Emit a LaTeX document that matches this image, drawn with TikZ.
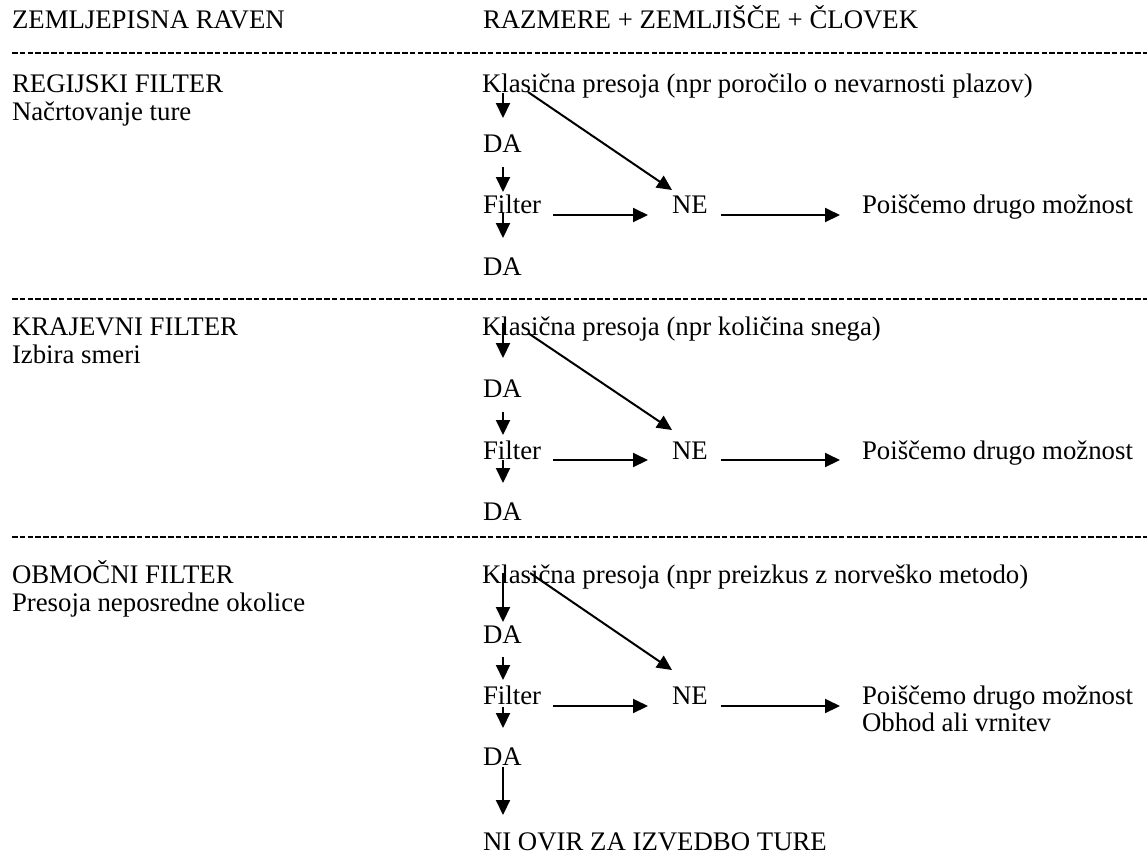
\documentclass[tikz,border=0pt]{standalone}
\usepackage{fontspec}
\setmainfont{Liberation Serif}
\usetikzlibrary{arrows.meta,calc}
\tikzset{
  txt/.style={anchor=base west,inner sep=0pt,outer sep=0pt,font=\fontsize{13.4pt}{15pt}\selectfont},
  arr/.style={line width=1pt,-{Triangle[length=7.5pt,width=7pt]}},
  sep/.style={line width=1.3pt,dash pattern=on 2.8pt off 1.1pt}
}
\begin{document}
\begin{tikzpicture}[x=0.5pt,y=-0.5pt]
\useasboundingbox[fill=white] (0,0) rectangle (1147,859);
% headers
\node[txt] (h1) at (12,28) {ZEMLJEPISNA RAVEN};
\node[txt] (h2) at (483,28) {RAZMERE + ZEMLJIŠČE + ČLOVEK};
% separators
\coordinate (s1a) at (12,53);  \coordinate (s1b) at (1147,53);
\coordinate (s2a) at (12,299); \coordinate (s2b) at (1147,299);
\coordinate (s3a) at (12,537); \coordinate (s3b) at (1147,537);
\draw[sep] (s1a) -- (s1b);
\draw[sep] (s2a) -- (s2b);
\draw[sep] (s3a) -- (s3b);
% left column
\node[txt] (l1) at (12,92) {REGIJSKI FILTER};
\node[txt] (l1b) at (12,120) {Načrtovanje ture};
\node[txt] (l2) at (12,335) {KRAJEVNI FILTER};
\node[txt] (l2b) at (12,363) {Izbira smeri};
\node[txt] (l3) at (12,583) {OBMOČNI FILTER};
\node[txt] (l3b) at (12,611) {Presoja neposredne okolice};
% section 1
\node[txt] (k1) at (482,92) {Klasična presoja (npr poročilo o nevarnosti plazov)};
\node[txt] (da1) at (483,152) {DA};
\node[txt] (f1) at (483,213) {Filter};
\node[txt] (ne1) at (672,213) {NE};
\node[txt] (p1) at (862,213) {Poiščemo drugo možnost};
\node[txt] (db1) at (483,275) {DA};
\draw[arr] ($(k1.base west)+(21,1)$) -- ($(k1.base west)+(21,26)$);
\draw[arr] ($(da1.base west)+(20,15)$) -- ($(da1.base west)+(20,40)$);
\draw[arr] ($(f1.base west)+(20,0)$) -- ($(f1.base west)+(20,25)$);
\draw[arr] ($(f1.base east)+(12,2)$) -- ($(ne1.base west)+(-24,2)$);
\draw[arr] ($(ne1.base east)+(13,2)$) -- ($(p1.base west)+(-22,2)$);
\draw[arr] ($(k1.base west)+(46,0)$) -- ($(ne1.base west)+(0,-23)$);
% section 2
\node[txt] (k2) at (482,335) {Klasična presoja (npr količina snega)};
\node[txt] (da2) at (483,397) {DA};
\node[txt] (f2) at (483,459) {Filter};
\node[txt] (ne2) at (672,459) {NE};
\node[txt] (p2) at (862,459) {Poiščemo drugo možnost};
\node[txt] (db2) at (483,520) {DA};
\draw[arr] ($(k2.base west)+(21,-12)$) -- ($(k2.base west)+(21,23)$);
\draw[arr] ($(da2.base west)+(20,15)$) -- ($(da2.base west)+(20,38)$);
\draw[arr] ($(f2.base west)+(20,1)$) -- ($(f2.base west)+(20,24)$);
\draw[arr] ($(f2.base east)+(12,1)$) -- ($(ne2.base west)+(-24,1)$);
\draw[arr] ($(ne2.base east)+(13,1)$) -- ($(p2.base west)+(-22,1)$);
\draw[arr] ($(k2.base west)+(46,-2)$) -- ($(ne2.base west)+(0,-29)$);
% section 3
\node[txt] (k3) at (482,583) {Klasična presoja (npr preizkus z norveško metodo)};
\node[txt] (da3) at (483,643) {DA};
\node[txt] (f3) at (483,704) {Filter};
\node[txt] (ne3) at (672,704) {NE};
\node[txt] (p3) at (862,704) {Poiščemo drugo možnost};
\node[txt] (p3b) at (862,731) {Obhod ali vrnitev};
\node[txt] (db3) at (483,765) {DA};
\node[txt] (end) at (483,850) {NI OVIR ZA IZVEDBO TURE};
\draw[arr] ($(k3.base west)+(21,-10)$) -- ($(k3.base west)+(21,39)$);
\draw[arr] ($(da3.base west)+(20,14)$) -- ($(da3.base west)+(20,37)$);
\draw[arr] ($(f3.base west)+(20,3)$) -- ($(f3.base west)+(20,24)$);
\draw[arr] ($(db3.base west)+(20,2)$) -- ($(db3.base west)+(20,50)$);
\draw[arr] ($(f3.base east)+(12,2)$) -- ($(ne3.base west)+(-24,2)$);
\draw[arr] ($(ne3.base east)+(13,2)$) -- ($(p3.base west)+(-22,2)$);
\draw[arr] ($(k3.base west)+(48,-10)$) -- ($(ne3.base west)+(0,-34)$);
\end{tikzpicture}
\end{document}
